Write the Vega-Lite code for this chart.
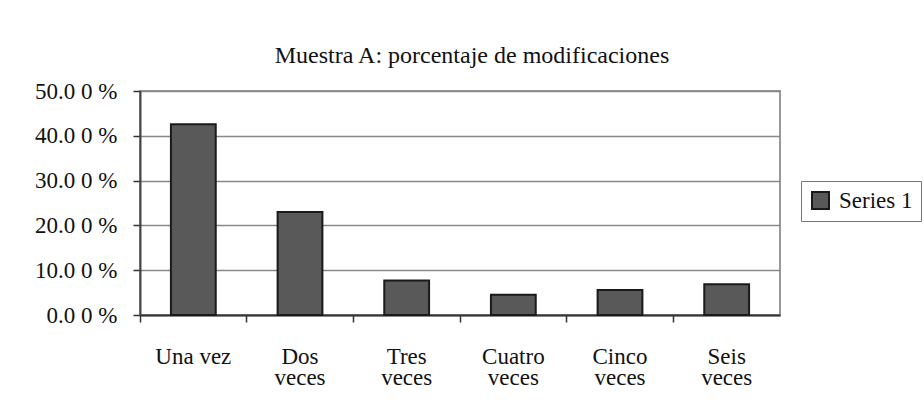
{
  "$schema": "https://vega.github.io/schema/vega-lite/v6.json",
  "autosize": {"type": "none"},
  "padding": {"left": 140, "top": 91, "right": 144, "bottom": 96},
  "width": 640,
  "height": 224,
  "background": "white",
  "title": {
    "text": "Muestra A: porcentaje de modificaciones",
    "frame": "group",
    "anchor": "middle",
    "dx": 12,
    "baseline": "alphabetic",
    "offset": -7,
    "font": "Liberation Serif",
    "fontSize": 24,
    "fontWeight": "normal",
    "color": "#111"
  },
  "data": {
    "values": [
      {"categoria": "Una vez", "porcentaje": 42.6, "serie": "Series 1"},
      {"categoria": "Dos veces", "porcentaje": 23.0, "serie": "Series 1"},
      {"categoria": "Tres veces", "porcentaje": 7.7, "serie": "Series 1"},
      {"categoria": "Cuatro veces", "porcentaje": 4.5, "serie": "Series 1"},
      {"categoria": "Cinco veces", "porcentaje": 5.6, "serie": "Series 1"},
      {"categoria": "Seis veces", "porcentaje": 6.85, "serie": "Series 1"}
    ]
  },
  "mark": {"type": "bar", "width": {"band": 0.42}, "stroke": "#1a1a1a", "strokeWidth": 2},
  "encoding": {
    "x": {
      "field": "categoria",
      "type": "nominal",
      "sort": null,
      "scale": {"paddingInner": 0, "paddingOuter": 0},
      "axis": {
        "title": null,
        "labelAngle": 0,
        "bandPosition": 0,
        "labelExpr": "datum.label == 'Una vez' ? datum.label : split(datum.label, ' ')",
        "labelLineHeight": 21,
        "labelPadding": 23,
        "labelBaseline": "top",
        "tickSize": 7,
        "tickColor": "#333",
        "tickWidth": 1.5,
        "domainColor": "#333",
        "domainWidth": 2,
        "grid": false
      }
    },
    "y": {
      "field": "porcentaje",
      "type": "quantitative",
      "scale": {"domain": [0, 50], "nice": false},
      "axis": {
        "title": null,
        "values": [0, 10, 20, 30, 40, 50],
        "labelExpr": "format(datum.value, '.1f') + ' 0 %'",
        "labelPadding": 16,
        "tickSize": 7,
        "tickColor": "#333",
        "tickWidth": 1.5,
        "domainColor": "#444",
        "domainWidth": 2,
        "gridColor": "#888",
        "gridWidth": 1.5
      }
    },
    "fill": {
      "field": "serie",
      "type": "nominal",
      "scale": {"range": ["#595959"]},
      "legend": {
        "title": null,
        "orient": "none",
        "legendX": 661,
        "legendY": 90,
        "symbolType": "square",
        "symbolSize": 289,
        "symbolStrokeColor": "#1a1a1a",
        "symbolStrokeWidth": 2,
        "symbolFillColor": "#595959",
        "strokeColor": "#777",
        "padding": 8,
        "labelOffset": 7
      }
    }
  },
  "config": {
    "font": "Liberation Serif",
    "axis": {"labelFont": "Liberation Serif", "labelFontSize": 23, "labelColor": "#111"},
    "legend": {"labelFont": "Liberation Serif", "labelFontSize": 23, "labelColor": "#111"},
    "view": {"stroke": "#999", "strokeWidth": 2}
  }
}
